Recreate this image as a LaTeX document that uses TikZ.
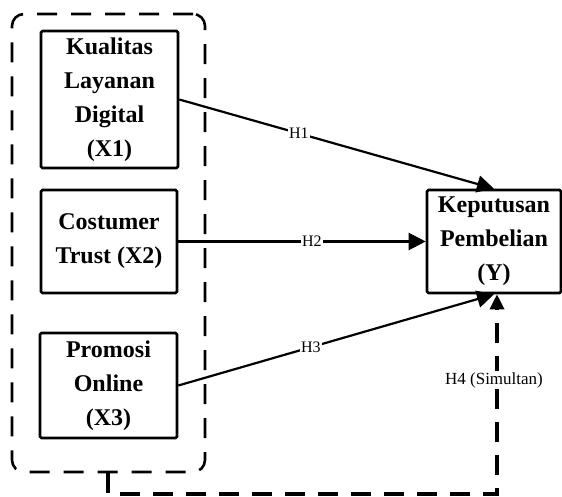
\documentclass[tikz,border=0pt]{standalone}
\usepackage{fontspec}
\setmainfont{Liberation Serif}
\usetikzlibrary{arrows.meta}
\begin{document}
\begin{tikzpicture}[x=1pt,y=-1pt,
  varbox/.style={draw, line width=2.6pt, rounded corners=1.5pt, align=center,
    font=\fontsize{24}{34}\selectfont\bfseries, inner sep=0pt},
  grpbox/.style={draw, line width=2.6pt, dash pattern=on 20pt off 14pt, rounded corners=12pt},
  conn/.style={line width=2.2pt, -{Triangle[length=17pt,width=17pt]}},
  simconn/.style={line width=3.4pt, dash pattern=on 20pt off 13pt, -{Triangle[length=15pt,width=14pt]}},
  hlab/.style={fill=white, inner sep=1pt, font=\fontsize{16}{18}\selectfont}]
\useasboundingbox (0,0) rectangle (562,497);
\node[grpbox, minimum width=193pt, minimum height=458pt] (outer) at (108.5,243) {};
\node[varbox, minimum width=137pt, minimum height=137pt] (x1) at (109.5,99.5) {Kualitas\\Layanan\\Digital\\(X1)};
\node[varbox, minimum width=136pt, minimum height=103pt] (x2) at (109,241.5) {Costumer\\Trust (X2)};
\node[varbox, minimum width=137pt, minimum height=105pt] (x3) at (108.5,385.5) {Promosi\\Online\\(X3)};
\node[varbox, minimum width=134pt, minimum height=103pt] (y) at (494,241.5) {Keputusan\\Pembelian\\(Y)};
\draw[conn] (x1.east) -- node[hlab, pos=0.38] {H1} (y.north);
\draw[conn] (x2.east) -- node[hlab, pos=0.54] {H2} (y.west);
\draw[conn] (x3.east) -- node[hlab, pos=0.42] {H3} (y.south);
\coordinate (c1) at (108,494);
\coordinate (c2) at (497,494);
\draw[simconn] (outer.south -| c1) -- (c1) -- (c2) -- (y.south -| c2);
\node[hlab, font=\fontsize{17}{19}\selectfont] (h4) at (494,380) {H4 (Simultan)};
\end{tikzpicture}
\end{document}
